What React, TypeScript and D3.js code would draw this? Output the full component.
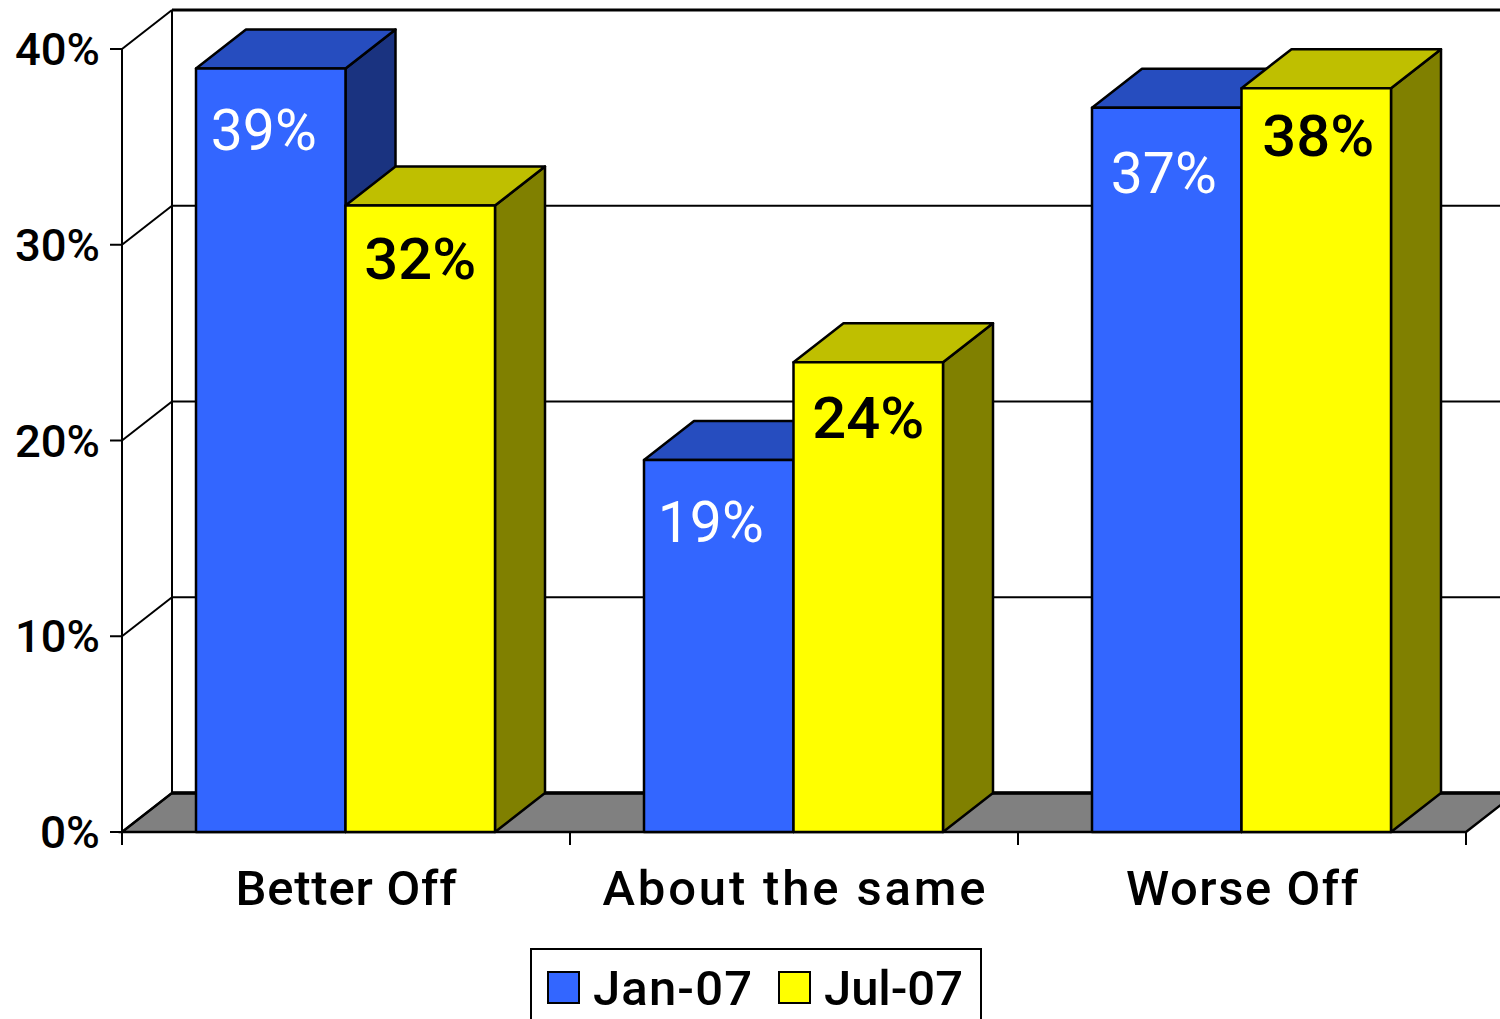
import React from "react";
import * as d3 from "d3";

const categories = ["Better Off", "About the same", "Worse Off"];
const seriesNames = ["Jan-07", "Jul-07"];
const jan07 = [39, 19, 37];
const jul07 = [32, 24, 38];
const yTicks = [0, 10, 20, 30, 40];

const width = 1500;
const height = 1019;
const FONT = "Roboto, sans-serif";

// 3d offset of the back wall
const depthX = 50;
const depthY = -39;

const x0 = d3.scaleBand().domain(categories).range([122, 1466]);
const x1 = d3.scaleBand().domain(seriesNames).range([74, 373]);
const y = d3.scaleLinear().domain([0, 40]).range([832, 49]);

const seriesStyle = [
  { values: jan07, front: "#3366ff", top: "#264dbf", side: "#1a3380", text: "#ffffff", weight: 400, len: 106 },
  { values: jul07, front: "#ffff00", top: "#bfbf00", side: "#808000", text: "#000000", weight: 500, len: 112 },
];

// hand placed labels, [dx from bar centre, dy from bar top]
const labelNudgeBySeries = [
  [[-7, 81], [-8, 82], [-3, 85]],
  [[0, 73], [0, 76], [2, 68]],
];
// label widths measured on the reference
const categoryWidths = [221, 383, 232];
const legendWidths = [159, 139];

const poly = (pts: number[][]) => d3.line()(pts as [number, number][]) + "Z";

function Bar({ cat, i, s }: { cat: string; i: number; s: number }) {
  const st = seriesStyle[s];
  const left = x0(cat)! + x1(seriesNames[s])!;
  const right = left + x1.bandwidth();
  const base = y(0);
  const top = y(st.values[i]);
  const nudge = labelNudgeBySeries[s][i];
  return (
    <g stroke="#000" strokeWidth={2.5} strokeLinejoin="round">
      <path
        d={poly([[right, base], [right + depthX, base + depthY], [right + depthX, top + depthY], [right, top]])}
        fill={st.side}
      />
      <path
        d={poly([[left, top], [left + depthX, top + depthY], [right + depthX, top + depthY], [right, top]])}
        fill={st.top}
      />
      <rect x={left} y={top} width={right - left} height={base - top} fill={st.front} />
      <text
        x={(left + right) / 2 + nudge[0]}
        y={top + nudge[1]}
        fill={st.text}
        stroke="none"
        fontSize={57}
        fontWeight={st.weight}
        textAnchor="middle"
        fontFamily={FONT}
        textLength={st.len}
        lengthAdjust="spacingAndGlyphs"
      >
        {st.values[i]}%
      </text>
    </g>
  );
}

export default function App() {
  const xEdges = [...categories.map((c) => x0(c)!), 1466];
  return (
    <svg
      width={width}
      height={height}
      viewBox={`0 0 ${width} ${height}`}
      style={{ position: "fixed", left: 0, top: 0, display: "block", background: "#fff" }}
    >
      {/* floor */}
      <path
        d={poly([[122, y(0)], [122 + depthX, y(0) + depthY], [1466 + depthX, y(0) + depthY], [1466, y(0)]])}
        fill="#808080"
        stroke="#000"
        strokeWidth={2.5}
      />
      <line x1={122 + depthX} x2={1466 + depthX} y1={y(0) + depthY} y2={y(0) + depthY} stroke="#000" strokeWidth={3.5} />

      {/* walls and gridlines */}
      <g stroke="#000" strokeWidth={2} fill="none">
        <line x1={122} x2={122} y1={y(40)} y2={845} />
        <line x1={122 + depthX} x2={122 + depthX} y1={y(40) + depthY} y2={y(0) + depthY} />
        {yTicks.map((t) => (
          <g key={t}>
            <line x1={110} x2={122} y1={y(t)} y2={y(t)} />
            <line x1={122} x2={122 + depthX} y1={y(t)} y2={y(t) + depthY} />
            {t > 0 && (
              <line
                x1={122 + depthX}
                x2={1466 + depthX}
                y1={y(t) + depthY}
                y2={y(t) + depthY}
                strokeWidth={t === 40 ? 3 : 2}
              />
            )}
          </g>
        ))}
        <line x1={122} x2={1466} y1={y(0)} y2={y(0)} />
        {xEdges.map((e) => (
          <line key={e} x1={e} x2={e} y1={y(0)} y2={845} />
        ))}
      </g>

      {/* y tick labels */}
      {yTicks.map((t) => (
        <text
          key={t}
          x={100}
          y={y(t) + 16}
          textAnchor="end"
          fontSize={44}
          fontWeight={500}
          fontFamily={FONT}
          fill="#000"
          textLength={t === 0 ? 60 : 85}
          lengthAdjust="spacingAndGlyphs"
        >
          {t}%
        </text>
      ))}

      {/* bars */}
      {categories.map((c, i) => (
        <g key={c}>
          <Bar cat={c} i={i} s={0} />
          <Bar cat={c} i={i} s={1} />
        </g>
      ))}

      {/* category labels */}
      {categories.map((c, i) => (
        <text
          key={c}
          x={x0(c)! + x0.bandwidth() / 2}
          y={905}
          textAnchor="middle"
          fontSize={49}
          fontWeight={500}
          fontFamily={FONT}
          fill="#000"
          textLength={categoryWidths[i]}
        >
          {c}
        </text>
      ))}

      {/* legend */}
      <rect x={531} y={949} width={450} height={90} fill="#fff" stroke="#000" strokeWidth={2} />
      {seriesNames.map((n, i) => {
        const sx = i === 0 ? 548 : 779;
        return (
          <g key={n}>
            <rect x={sx} y={972} width={31} height={31} fill={seriesStyle[i].front} stroke="#000" strokeWidth={2} />
            <text
              x={sx + 45}
              y={1005}
              fontSize={49}
              fontWeight={500}
              fontFamily={FONT}
              fill="#000"
              textLength={legendWidths[i]}
            >
              {n}
            </text>
          </g>
        );
      })}
    </svg>
  );
}
